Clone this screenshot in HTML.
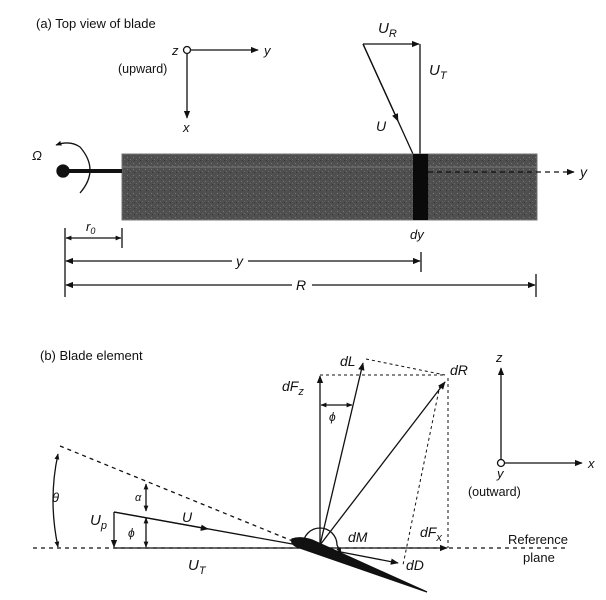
<!DOCTYPE html>
<html><head><meta charset="utf-8">
<style>
html,body{margin:0;padding:0;background:#fff;}
svg{display:block;}
text{font-family:"Liberation Sans",Arial,sans-serif;fill:#111;}
.it{font-style:italic;}
</style></head>
<body>
<svg width="606" height="600" viewBox="0 0 606 600" xmlns="http://www.w3.org/2000/svg">
<defs>
<marker id="ah" viewBox="0 0 10 10" refX="9" refY="5" markerWidth="8" markerHeight="8" orient="auto-start-reverse" markerUnits="userSpaceOnUse">
<path d="M0,1 L10,5 L0,9 z" fill="#111"/></marker>
<marker id="ahs" viewBox="0 0 10 10" refX="9" refY="5" markerWidth="6" markerHeight="6" orient="auto-start-reverse" markerUnits="userSpaceOnUse">
<path d="M0,1 L10,5 L0,9 z" fill="#111"/></marker>
<pattern id="noise" width="6" height="6" patternUnits="userSpaceOnUse">
<rect width="6" height="6" fill="#4f4f4f"/>
<rect x="1" y="1" width="1" height="1" fill="#7a7a7a"/>
<rect x="4" y="3" width="1" height="1" fill="#6a6a6a"/>
<rect x="2" y="4" width="1" height="1" fill="#333"/>
</pattern>
</defs>
<g stroke="#111" fill="none" stroke-width="1.3">

<!-- (a) -->
<g>
<text x="36" y="28" font-size="13" stroke="none">(a) Top view of blade</text>
<circle cx="187" cy="50" r="3.5"/>
<line x1="191" y1="50" x2="258" y2="50" marker-end="url(#ah)"/>
<line x1="187" y1="54" x2="187" y2="118" marker-end="url(#ah)"/>
<text x="172" y="55" font-size="13" class="it" stroke="none">z</text>
<text x="264" y="55" font-size="13" class="it" stroke="none">y</text>
<text x="118" y="73" font-size="12.5" stroke="none">(upward)</text>
<text x="183" y="132" font-size="13" class="it" stroke="none">x</text>

<line x1="363" y1="44" x2="419" y2="44" marker-end="url(#ah)"/>
<line x1="420" y1="44" x2="420" y2="154"/>
<line x1="363" y1="44" x2="413" y2="154"/>
<line x1="363" y1="44" x2="398" y2="121" marker-end="url(#ah)"/>
<text x="378" y="33" font-size="15" class="it" stroke="none">U<tspan font-size="11" dy="4">R</tspan></text>
<text x="429" y="75" font-size="15" class="it" stroke="none">U<tspan font-size="11" dy="4">T</tspan></text>
<text x="376" y="131" font-size="14" class="it" stroke="none">U</text>

<rect x="122" y="154" width="415" height="66" fill="url(#noise)" stroke="#777" stroke-width="1"/>
<line x1="122" y1="167" x2="537" y2="167" stroke="#8a8a8a" stroke-width="0.8"/>
<rect x="413" y="154" width="15" height="66" fill="#0a0a0a" stroke="none"/>
<line x1="428" y1="172" x2="574" y2="172" stroke-dasharray="5,4" marker-end="url(#ah)"/>
<text x="580" y="177" font-size="14" class="it" stroke="none">y</text>

<circle cx="63" cy="171" r="6" fill="#111"/>
<line x1="63" y1="171" x2="122" y2="171" stroke-width="4"/>
<path d="M80,193 Q100,170 80,147 Q70,140 56,145" marker-end="url(#ahs)"/>
<text x="32" y="160" font-size="13" class="it" stroke="none">Ω</text>

<line x1="65" y1="228" x2="65" y2="297"/>
<line x1="122" y1="228" x2="122" y2="248"/>
<line x1="421" y1="252" x2="421" y2="272"/>
<line x1="536" y1="274" x2="536" y2="297"/>
<line x1="66" y1="238" x2="121" y2="238" marker-start="url(#ahs)" marker-end="url(#ahs)"/>
<text x="86" y="231" font-size="13" class="it" stroke="none">r<tspan font-size="9" dy="3">0</tspan></text>
<text x="410" y="239" font-size="13" class="it" stroke="none">dy</text>
<line x1="66" y1="261" x2="232" y2="261" marker-start="url(#ah)"/>
<line x1="248" y1="261" x2="420" y2="261" marker-end="url(#ah)"/>
<text x="236" y="266" font-size="14" class="it" stroke="none">y</text>
<line x1="66" y1="285" x2="292" y2="285" marker-start="url(#ah)"/>
<line x1="312" y1="285" x2="535" y2="285" marker-end="url(#ah)"/>
<text x="296" y="290" font-size="14" class="it" stroke="none">R</text>
</g>

<!-- (b) -->
<g>
<text x="40" y="360" font-size="13" stroke="none">(b) Blade element</text>

<line x1="501" y1="459" x2="501" y2="368" marker-end="url(#ah)"/>
<line x1="505" y1="463" x2="582" y2="463" marker-end="url(#ah)"/>
<circle cx="501" cy="463" r="3.5"/>
<text x="496" y="362" font-size="13" class="it" stroke="none">z</text>
<text x="588" y="468" font-size="13" class="it" stroke="none">x</text>
<text x="497" y="478" font-size="13" class="it" stroke="none">y</text>
<text x="468" y="496" font-size="12.5" stroke="none">(outward)</text>

<line x1="33" y1="548" x2="565" y2="548" stroke-dasharray="4,4"/>
<text x="508" y="544" font-size="13" stroke="none">Reference</text>
<text x="523" y="562" font-size="13" stroke="none">plane</text>

<line x1="60" y1="446" x2="295" y2="542" stroke-dasharray="4,4"/>
<path d="M58,454 Q48,500 58,547" marker-start="url(#ahs)" marker-end="url(#ahs)"/>
<text x="52" y="502" font-size="13" class="it" stroke="none">θ</text>

<line x1="114" y1="548" x2="300" y2="548"/>
<text x="188" y="570" font-size="15" class="it" stroke="none">U<tspan font-size="11" dy="4">T</tspan></text>
<line x1="114" y1="512" x2="114" y2="547" marker-end="url(#ah)"/>
<text x="90" y="525" font-size="15" class="it" stroke="none">U<tspan font-size="11" dy="4">p</tspan></text>
<line x1="114" y1="512" x2="298" y2="545"/>
<line x1="114" y1="512" x2="208" y2="529" marker-end="url(#ah)"/>
<text x="182" y="522" font-size="14" class="it" stroke="none">U</text>
<line x1="146" y1="484" x2="146" y2="511" marker-start="url(#ahs)" marker-end="url(#ahs)"/>
<line x1="146" y1="518" x2="146" y2="547" marker-start="url(#ahs)" marker-end="url(#ahs)"/>
<text x="135" y="501" font-size="11" class="it" stroke="none">α</text>
<text x="128" y="537" font-size="12" class="it" stroke="none">ϕ</text>

<path d="M292,539 Q300,536 312,540 L427,592 L300,548 Q290,545 292,539 z" fill="#111"/>

<line x1="320" y1="545" x2="320" y2="376" marker-end="url(#ah)"/>
<line x1="320" y1="545" x2="363" y2="363" marker-end="url(#ah)"/>
<line x1="320" y1="545" x2="445" y2="382" marker-end="url(#ah)"/>
<line x1="320" y1="548" x2="447" y2="548" marker-end="url(#ah)"/>
<line x1="320" y1="548" x2="398" y2="563" marker-end="url(#ah)"/>
<g stroke-dasharray="3,3" stroke-width="1">
<line x1="320" y1="375" x2="445" y2="375"/>
<line x1="366" y1="359" x2="445" y2="375"/>
<line x1="448" y1="378" x2="448" y2="548"/>
<line x1="440" y1="385" x2="403" y2="565"/>
</g>
<line x1="321" y1="405" x2="352" y2="405" marker-start="url(#ahs)" marker-end="url(#ahs)"/>
<text x="329" y="421" font-size="12" class="it" stroke="none">ϕ</text>
<path d="M303,545 A17,17 0 0 1 337,545 L341,553" marker-end="url(#ahs)"/>
<text x="282" y="391" font-size="14" class="it" stroke="none">dF<tspan font-size="11" dy="4">z</tspan></text>
<text x="340" y="366" font-size="14" class="it" stroke="none">dL</text>
<text x="450" y="375" font-size="14" class="it" stroke="none">dR</text>
<text x="348" y="542" font-size="14" class="it" stroke="none">dM</text>
<text x="420" y="537" font-size="14" class="it" stroke="none">dF<tspan font-size="11" dy="4">x</tspan></text>
<text x="406" y="570" font-size="14" class="it" stroke="none">dD</text>
</g>
</g>
</svg>
</body></html>
